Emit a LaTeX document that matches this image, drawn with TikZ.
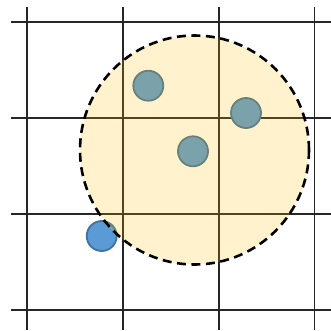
\documentclass[tikz,border=0pt]{standalone}
\usetikzlibrary{backgrounds}
\definecolor{gridc}{HTML}{262626}
\definecolor{dotfill}{HTML}{5B9BD5}
\definecolor{dotline}{HTML}{41719C}
\definecolor{zone}{HTML}{FFC000}
\begin{document}
\begin{tikzpicture}[x=1pt,y=-1pt,
  gridline/.style={draw=gridc,line width=1.1pt},
  dot/.style={circle,draw=dotline,fill=dotfill,line width=1.8pt,minimum size=30pt,inner sep=0pt},
  zonefill/.style={circle,fill=zone,fill opacity=0.2,minimum size=229pt,inner sep=0pt},
  zoneline/.style={circle,draw=black,line width=2.6pt,dash pattern=on 9pt off 5.5pt,minimum size=229pt,inner sep=0pt}]
\useasboundingbox (0,0) rectangle (331,330);
\coordinate (v1t) at (27,7);   \coordinate (v1b) at (27,330);
\coordinate (v2t) at (123,7);  \coordinate (v2b) at (123,330);
\coordinate (v3t) at (219,7);  \coordinate (v3b) at (219,330);
\coordinate (v4t) at (314.5,7);\coordinate (v4b) at (314.5,330);
\coordinate (h1l) at (11,22);  \coordinate (h1r) at (331,22);
\coordinate (h2l) at (11,118); \coordinate (h2r) at (331,118);
\coordinate (h3l) at (11,214); \coordinate (h3r) at (331,214);
\coordinate (h4l) at (11,310); \coordinate (h4r) at (331,310);
\foreach \n in {v1,v2,v3,v4} \draw[gridline] (\n t) -- (\n b);
\foreach \n in {h1,h2,h3,h4} \draw[gridline] (\n l) -- (\n r);
\node[dot] (d1) at (148.3,85.7) {};
\node[dot] (d2) at (246,113) {};
\node[dot] (d3) at (193,151.3) {};
\node[dot] (d4) at (101.7,236) {};
\node[zonefill] (zf) at (194.5,150) {};
\node[zoneline] (zl) at (194.5,150) {};
\end{tikzpicture}
\end{document}
